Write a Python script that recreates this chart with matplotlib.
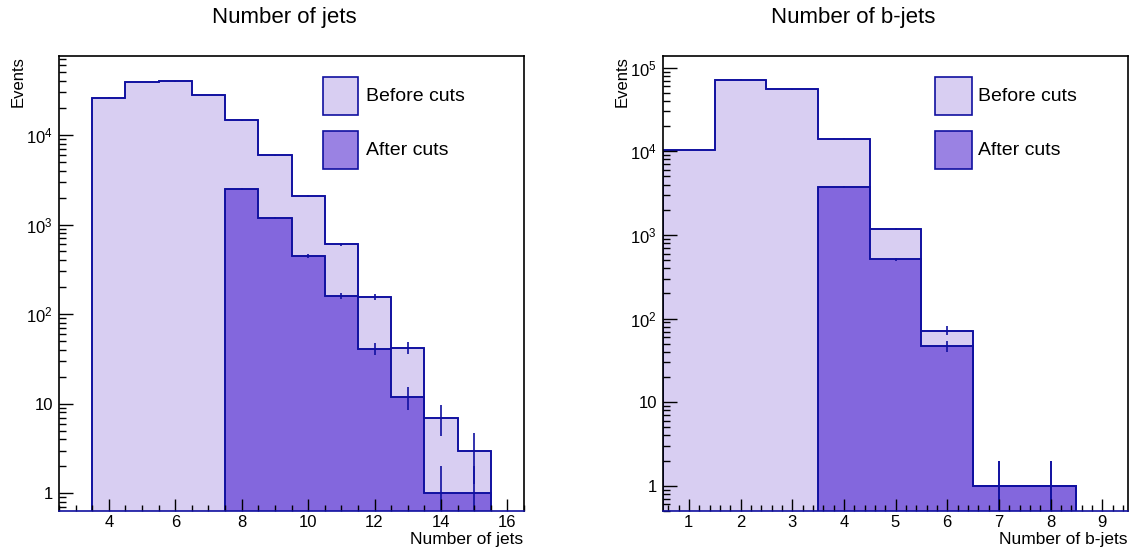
import numpy as np
import matplotlib
matplotlib.use("Agg")
import matplotlib.pyplot as plt
from matplotlib.patches import Rectangle
from matplotlib.ticker import FixedLocator, LogLocator, MultipleLocator, FuncFormatter, NullFormatter

plt.rcParams['font.family'] = ['Liberation Sans', 'DejaVu Sans']
plt.rcParams['mathtext.fontset'] = 'custom'
plt.rcParams['mathtext.rm'] = 'Liberation Sans'
plt.rcParams['mathtext.it'] = 'Liberation Sans:italic'
plt.rcParams['mathtext.bf'] = 'Liberation Sans:bold'

# ---------------- data ----------------
# Number of jets
jets_before_centers = [4, 5, 6, 7, 8, 9, 10, 11, 12, 13, 14, 15]
jets_before_counts = [26000, 39000, 39500, 28000, 14600, 5900, 2100, 600, 157, 42, 7, 3]
jets_after_centers = [8, 9, 10, 11, 12, 13, 14, 15]
jets_after_counts = [2500, 1180, 447, 159, 41, 12, 1, 1]

# Number of b-jets
bjets_before_centers = [1, 2, 3, 4, 5, 6, 7, 8]
bjets_before_counts = [10400, 72000, 55000, 14150, 1180, 72, 1, 1]
bjets_after_centers = [4, 5, 6, 7, 8]
bjets_after_counts = [3740, 512, 47, 1, 1]

titles = ["Number of jets", "Number of b-jets"]
xlabels = ["Number of jets", "Number of b-jets"]
legend_labels = ["Before cuts", "After cuts"]

# ---------------- style ----------------
NAVY = '#1010a0'
C_BEFORE = '#d8cef2'
C_AFTER = '#8367dd'
C_AFTER_LEG = '#9a82e3'

W, H = 1138, 556
fig = plt.figure(figsize=(W / 100, H / 100), dpi=100)

def px_axes(x0, y0, x1, y1):
    return fig.add_axes([x0 / W, 1 - y1 / H, (x1 - x0) / W, (y1 - y0) / H])

ax1 = px_axes(59, 56, 524, 511)
ax2 = px_axes(663, 56, 1128, 511)

def yfmt(v, pos):
    e = int(round(np.log10(v)))
    if e == 0:
        return '1'
    if e == 1:
        return '10'
    return r'$10^{%d}$' % e

def hist(ax, centers, counts, color):
    centers = np.asarray(centers, float)
    counts = np.asarray(counts, float)
    edges = np.append(centers - 0.5, centers[-1] + 0.5)
    ax.stairs(counts, edges, baseline=1e-3, fill=True, facecolor=color,
              edgecolor=NAVY, linewidth=1.2, zorder=2)
    ax.stairs(counts, edges, baseline=1e-3, fill=False,
              edgecolor=NAVY, linewidth=1.2, zorder=3)
    err = np.sqrt(counts)
    lo = np.maximum(counts - err, 1e-3)
    ax.vlines(centers, lo, counts + err, color=NAVY, linewidth=1.2, zorder=3)

def style(ax, xlim, ylim, major, minor, xlabel, title, title_x, leg_x0, leg_x1, text_x):
    ax.set_yscale('log')
    ax.set_xlim(*xlim)
    ax.set_ylim(*ylim)
    ax.set_axisbelow(False)
    ax.xaxis.set_zorder(4)
    ax.yaxis.set_zorder(4)
    ax.yaxis.set_major_locator(FixedLocator([1, 10, 100, 1e3, 1e4, 1e5]))
    ax.yaxis.set_major_formatter(FuncFormatter(yfmt))
    ax.yaxis.set_minor_locator(LogLocator(base=10, subs=np.arange(2, 10), numticks=30))
    ax.yaxis.set_minor_formatter(NullFormatter())
    ax.xaxis.set_major_locator(MultipleLocator(major))
    ax.xaxis.set_minor_locator(MultipleLocator(minor))
    ax.tick_params(which='both', direction='in', top=False, right=False, labelsize=12, colors='black')
    ax.tick_params(axis='y', which='major', length=10, width=1.0, pad=4.5)
    ax.tick_params(axis='y', which='minor', length=5, width=1.0)
    ax.tick_params(axis='x', which='major', length=9, width=1.0, pad=3)
    ax.tick_params(axis='x', which='minor', length=4.5, width=1.0)
    for s in ax.spines.values():
        s.set_linewidth(1.2)
        s.set_zorder(5)
    ax.spines['bottom'].set_color(NAVY)
    ax.set_xlabel(xlabel, fontsize=12.5, loc='right')
    ax.xaxis.set_label_coords(0.998, -0.046)
    ax.set_ylabel('Events', fontsize=12, loc='top')
    ax.yaxis.set_label_coords(-0.072, 1.0)
    fig.text(title_x / W, 1 - 18 / H, title, fontsize=16, ha='center', va='center')
    # legend
    ys = [(0.870, 0.954, 0.912), (0.752, 0.835, 0.793)]
    for (yb, yt, yc), lab, col in zip(ys, legend_labels, [C_BEFORE, C_AFTER_LEG]):
        ax.add_patch(Rectangle((leg_x0, yb), leg_x1 - leg_x0, yt - yb, transform=ax.transAxes,
                               facecolor=col, edgecolor=NAVY, linewidth=1.2, zorder=6))
        ax.text(text_x, yc, lab, transform=ax.transAxes, fontsize=14, ha='left', va='center', zorder=6)

hist(ax1, jets_before_centers, jets_before_counts, C_BEFORE)
hist(ax1, jets_after_centers, jets_after_counts, C_AFTER)
style(ax1, (2.5, 16.5), (0.635, 76000), 2, 0.5, xlabels[0], titles[0], 284.5, 0.568, 0.643, 0.660)

hist(ax2, bjets_before_centers, bjets_before_counts, C_BEFORE)
hist(ax2, bjets_after_centers, bjets_after_counts, C_AFTER)
style(ax2, (0.5, 9.5), (0.5, 138000), 1, 0.2, xlabels[1], titles[1], 853.5, 0.586, 0.664, 0.677)

fig.savefig('out.png', dpi=100)
